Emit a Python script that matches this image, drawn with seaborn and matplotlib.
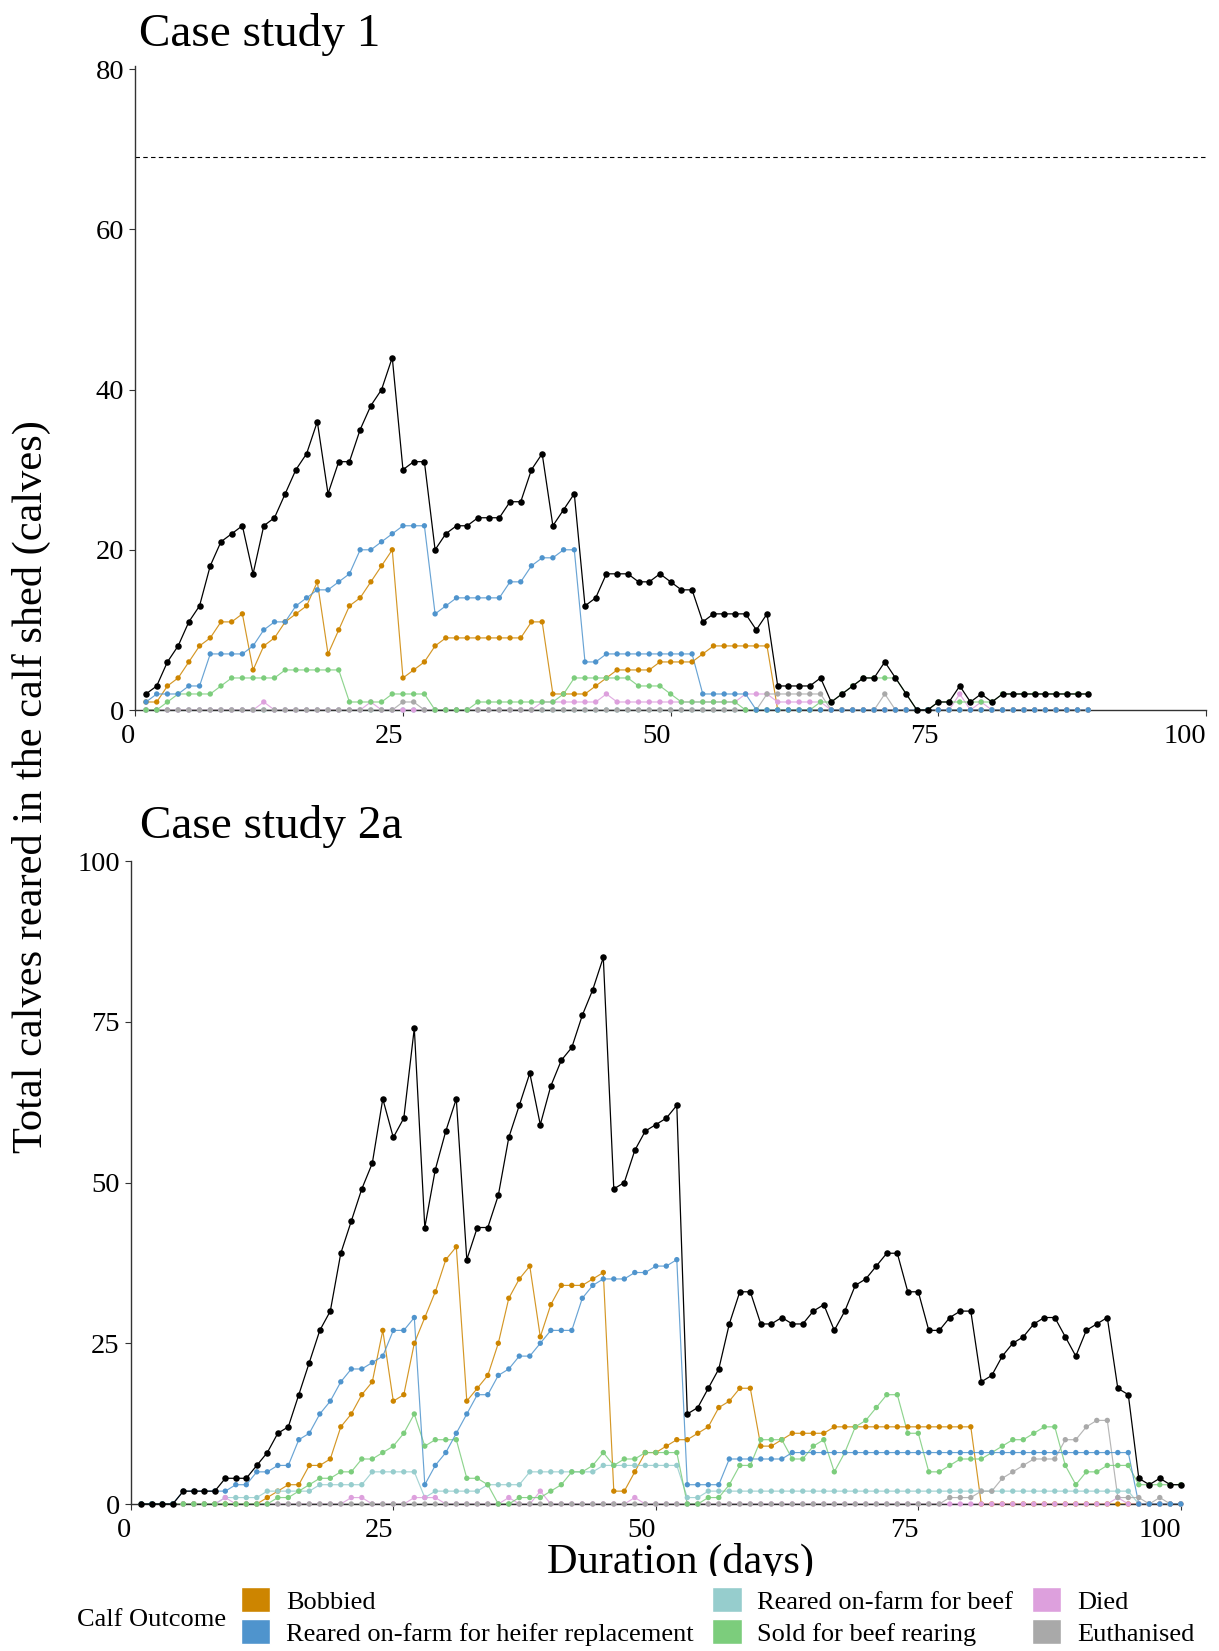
import numpy as np
import pandas as pd
import matplotlib
matplotlib.use("Agg")
import matplotlib.pyplot as plt
import seaborn as sns
from matplotlib.patches import Patch, Rectangle

# ---------------- data ----------------
outcomes = ["Bobbied", "Reared on-farm for heifer replacement", "Reared on-farm for beef",
            "Sold for beef rearing", "Died", "Euthanised"]
colors = ["#CD8500", "#4F94CD", "#96CDCD", "#7CCD7C", "#DDA0DD", "#A9A9A9"]
draw_order = ["Bobbied", "Reared on-farm for beef", "Died", "Euthanised",
              "Sold for beef rearing", "Reared on-farm for heifer replacement"]

# Case study 1 (days 1..89)
days1 = list(range(1, 90))
total1 = [2, 3, 6, 8, 11, 13, 18, 21, 22, 23,
          17, 23, 24, 27, 30, 32, 36, 27, 31, 31,
          35, 38, 40, 44, 30, 31, 31, 20, 22, 23,
          23, 24, 24, 24, 26, 26, 30, 32, 23, 25,
          27, 13, 14, 17, 17, 17, 16, 16, 17, 16,
          15, 15, 11, 12, 12, 12, 12, 10, 12, 3,
          3, 3, 3, 4, 1, 2, 3, 4, 4, 6,
          4, 2, 0, 0, 1, 1, 3, 1, 2, 1,
          2, 2, 2, 2, 2, 2, 2, 2, 2]
bobbied1 = [1, 1, 3, 4, 6, 8, 9, 11, 11, 12,
            5, 8, 9, 11, 12, 13, 16, 7, 10, 13,
            14, 16, 18, 20, 4, 5, 6, 8, 9, 9,
            9, 9, 9, 9, 9, 9, 11, 11, 2, 2,
            2, 2, 3, 4, 5, 5, 5, 5, 6, 6,
            6, 6, 7, 8, 8, 8, 8, 8, 8, 0] + [0] * 29
heifer1 = [1, 2, 2, 2, 3, 3, 7, 7, 7, 7,
           8, 10, 11, 11, 13, 14, 15, 15, 16, 17,
           20, 20, 21, 22, 23, 23, 23, 12, 13, 14,
           14, 14, 14, 14, 16, 16, 18, 19, 19, 20,
           20, 6, 6, 7, 7, 7, 7, 7, 7, 7,
           7, 7, 2, 2, 2, 2, 2, 0, 0, 0] + [0] * 29
beef1 = [0] * 89
sold1 = [0, 0, 1, 2, 2, 2, 2, 3, 4, 4,
         4, 4, 4, 5, 5, 5, 5, 5, 5, 1,
         1, 1, 1, 2, 2, 2, 2, 0, 0, 0,
         0, 1, 1, 1, 1, 1, 1, 1, 1, 2,
         4, 4, 4, 4, 4, 4, 3, 3, 3, 2,
         1, 1, 1, 1, 1, 1, 0, 0, 0, 0,
         0, 0, 0, 1, 1, 2, 3, 4, 4, 4,
         4, 2, 0, 0, 1, 1, 1, 1, 1, 1,
         2, 2, 2, 2, 2, 2, 2, 2, 2]
died1 = [0, 0, 0, 0, 0, 0, 0, 0, 0, 0,
         0, 1, 0, 0, 0, 0, 0, 0, 0, 0,
         0, 1, 0, 0, 0, 0, 0, 0, 0, 0,
         0, 0, 0, 0, 0, 0, 0, 1, 1, 1,
         1, 1, 1, 2, 1, 1, 1, 1, 1, 1,
         1, 1, 1, 1, 1, 1, 2, 2, 2, 1,
         1, 1, 1, 1, 0, 0, 0, 0, 0, 0,
         0, 0, 0, 0, 0, 0, 2, 0, 1, 0,
         0, 0, 0, 0, 0, 0, 0, 0, 0]
euth1 = [0, 0, 0, 0, 0, 0, 0, 0, 0, 0,
         0, 0, 0, 0, 0, 0, 0, 0, 0, 0,
         0, 0, 0, 0, 1, 1, 0, 0, 0, 0,
         0, 0, 0, 0, 0, 0, 0, 0, 0, 0,
         0, 0, 0, 0, 0, 0, 0, 0, 0, 0,
         0, 0, 0, 0, 0, 0, 0, 0, 2, 2,
         2, 2, 2, 2, 0, 0, 0, 0, 0, 2,
         0, 0, 0, 0, 0, 0, 0, 0, 0, 0,
         0, 0, 0, 0, 0, 0, 0, 0, 0]
capacity1 = 69

# Case study 2a (days 1..100)
days2 = list(range(1, 101))
total2 = [0, 0, 0, 0, 2, 2, 2, 2, 4, 4,
          4, 6, 8, 11, 12, 17, 22, 27, 30, 39,
          44, 49, 53, 63, 57, 60, 74, 43, 52, 58,
          63, 38, 43, 43, 48, 57, 62, 67, 59, 65,
          69, 71, 76, 80, 85, 49, 50, 55, 58, 59,
          60, 62, 14, 15, 18, 21, 28, 33, 33, 28,
          28, 29, 28, 28, 30, 31, 27, 30, 34, 35,
          37, 39, 39, 33, 33, 27, 27, 29, 30, 30,
          19, 20, 23, 25, 26, 28, 29, 29, 26, 23,
          27, 28, 29, 18, 17, 4, 3, 4, 3, 3]
bobbied2 = [0] * 12 + [1, 2, 3, 3, 6, 6, 7, 12,
            14, 17, 19, 27, 16, 17, 25, 29, 33, 38,
            40, 16, 18, 20, 25, 32, 35, 37, 26, 31,
            34, 34, 34, 35, 36, 2, 2, 5, 8, 8,
            9, 10, 10, 11, 12, 15, 16, 18, 18, 9,
            9, 10, 11, 11, 11, 11, 12, 12, 12, 12,
            12, 12, 12, 12, 12, 12, 12, 12, 12, 12] + [0] * 20
heifer2 = [0, 0, 0, 0, 2, 2, 2, 2, 2, 3,
           3, 5, 5, 6, 6, 10, 11, 14, 16, 19,
           21, 21, 22, 23, 27, 27, 29, 3, 6, 8,
           11, 14, 17, 17, 20, 21, 23, 23, 25, 27,
           27, 27, 32, 34, 35, 35, 35, 36, 36, 37,
           37, 38, 3, 3, 3, 3, 7, 7, 7, 7,
           7, 7, 8, 8, 8, 8, 8, 8, 8, 8] + [8] * 25 + [0] * 5
beef2 = [0] * 8 + [1, 1, 1, 1,
         2, 2, 2, 2, 2, 3, 3, 3, 3, 3,
         5, 5, 5, 5, 5, 1, 2, 2, 2, 2,
         2, 3, 3, 3, 3, 5, 5, 5, 5, 5,
         5, 5, 6, 6, 6, 6, 6, 6, 6, 6,
         1, 1] + [2] * 41 + [0] * 5
sold2 = [0] * 13 + [1, 1, 2, 3, 4, 4, 5,
         5, 7, 7, 8, 9, 11, 14, 9, 10, 10,
         10, 4, 4, 3, 0, 0, 1, 1, 1, 2,
         3, 5, 5, 6, 8, 6, 7, 7, 8, 8,
         8, 8, 0, 0, 1, 1, 3, 6, 6, 10,
         10, 10, 7, 7, 9, 10, 5, 8, 12, 13,
         15, 17, 17, 11, 11, 5, 5, 6, 7, 7,
         7, 8, 9, 10, 10, 11, 12, 12, 6, 3,
         5, 5, 6, 6, 6, 3, 3, 3, 3, 3]
died2 = [0] * 100
for d_, v_ in [(9, 1), (21, 1), (22, 1), (27, 1), (28, 1), (29, 1), (36, 1), (39, 2), (48, 1), (94, 1)]:
    died2[d_ - 1] = v_
euth2 = [0] * 77 + [1, 1, 1, 2, 2, 4, 5, 6, 7, 7, 7, 10, 10, 12, 13, 13, 1, 1, 1, 0, 1, 0, 0]

series1 = dict(zip(outcomes, [bobbied1, heifer1, beef1, sold1, died1, euth1]))
series2 = dict(zip(outcomes, [bobbied2, heifer2, beef2, sold2, died2, euth2]))
palette = dict(zip(outcomes, colors))

# ---------------- style ----------------
sns.set_style("ticks")
plt.rcParams["font.family"] = ["Liberation Serif", "DejaVu Serif"]
plt.rcParams["text.color"] = "black"
plt.rcParams["axes.labelcolor"] = "black"
plt.rcParams["xtick.color"] = "black"
plt.rcParams["ytick.color"] = "black"
plt.rcParams["axes.linewidth"] = 1.0

W, H = 1219, 1651
fig = plt.figure(figsize=(W / 100, H / 100), dpi=100)
ax1 = fig.add_axes([135.3 / W, 1 - 710 / H, (1206 - 135.3) / W, (710 - 66) / H])
ax2 = fig.add_axes([130.8 / W, 1 - 1504 / H, 1050 / W, (1504 - 861) / H])


def draw(ax, days, series, total):
    rows = []
    for name in draw_order:
        for d, v in zip(days, series[name]):
            rows.append((d, v, name))
    df = pd.DataFrame(rows, columns=["day", "calves", "outcome"])
    sns.lineplot(data=df, x="day", y="calves", hue="outcome", hue_order=draw_order,
                 palette=palette, linewidth=0.85, alpha=0.85, legend=False, ax=ax,
                 estimator=None, clip_on=False)
    sns.scatterplot(data=df, x="day", y="calves", hue="outcome", hue_order=draw_order,
                    palette=palette, s=15, linewidth=0, legend=False, ax=ax, clip_on=False,
                    zorder=3)
    tdf = pd.DataFrame({"day": days, "calves": total})
    sns.lineplot(data=tdf, x="day", y="calves", color="black", linewidth=0.9, ax=ax,
                 clip_on=False, zorder=4)
    sns.scatterplot(data=tdf, x="day", y="calves", color="black", s=22, linewidth=0,
                    ax=ax, clip_on=False, zorder=5)


draw(ax1, days1, series1, total1)
draw(ax2, days2, series2, total2)
ax1.axhline(capacity1, color="black", linewidth=0.8, linestyle=(0, (4, 3)), zorder=2)

ax1.set_xlim(0, 100)
ax1.set_ylim(0, 80.4)
ax1.set_xticks([0, 25, 50, 75, 100])
ax1.set_yticks([0, 20, 40, 60, 80])
ax2.set_xlim(0, 100)
ax2.set_ylim(0, 100)
ax2.set_xticks([0, 25, 50, 75, 100])
ax2.set_yticks([0, 25, 50, 75, 100])

for ax in (ax1, ax2):
    sns.despine(ax=ax)
    ax.set_xlabel("")
    ax.set_ylabel("")
    for sp in ("left", "bottom"):
        ax.spines[sp].set_color("#333333")
        ax.spines[sp].set_linewidth(1.0)
    ax.tick_params(axis="both", labelsize=20.5, length=4, width=0.8, color="#333333",
                   labelcolor="black")
    ax.tick_params(axis="x", pad=6)
    ax.tick_params(axis="y", pad=4)
    for lab in ax.get_xticklabels():
        lab.set_horizontalalignment("right")
    ax.set_facecolor("white")

fig.text(139 / W, 1 - 45.7 / H, "Case study 1", fontsize=34, ha="left", va="baseline")
fig.text(140 / W, 1 - 838.3 / H, "Case study 2a", fontsize=34, ha="left", va="baseline")
fig.text(31 / W, 1 - 787 / H, "Total calves reared in the calf shed (calves)",
         fontsize=30.5, rotation=90, ha="center", va="center")
fig.text(681 / W, 1 - 1573 / H, "Duration (days)", fontsize=30.5, ha="center", va="baseline")

# white legend box overlapping the bottom of the x label
fig.add_artist(Rectangle((60 / W, 0), 1100 / W, 1 - 1576 / H, transform=fig.transFigure,
                         facecolor="white", edgecolor="none", zorder=4))

handles = [Patch(facecolor=c, edgecolor="white", linewidth=1.0) for c in colors]
leg = fig.legend(handles, outcomes, ncol=3, loc="upper left",
                 bbox_to_anchor=(241 / W, 1 - 1587 / H), frameon=False, fontsize=19,
                 handlelength=1.1, handleheight=1.1, handletextpad=0.6,
                 columnspacing=0.72, labelspacing=0.2, borderpad=0, borderaxespad=0)
leg.set_zorder(5)
fig.text(77 / W, 1 - 1620 / H, "Calf Outcome", fontsize=19, ha="left", va="center", zorder=5)

fig.savefig("out.png", dpi=100, facecolor="white")
